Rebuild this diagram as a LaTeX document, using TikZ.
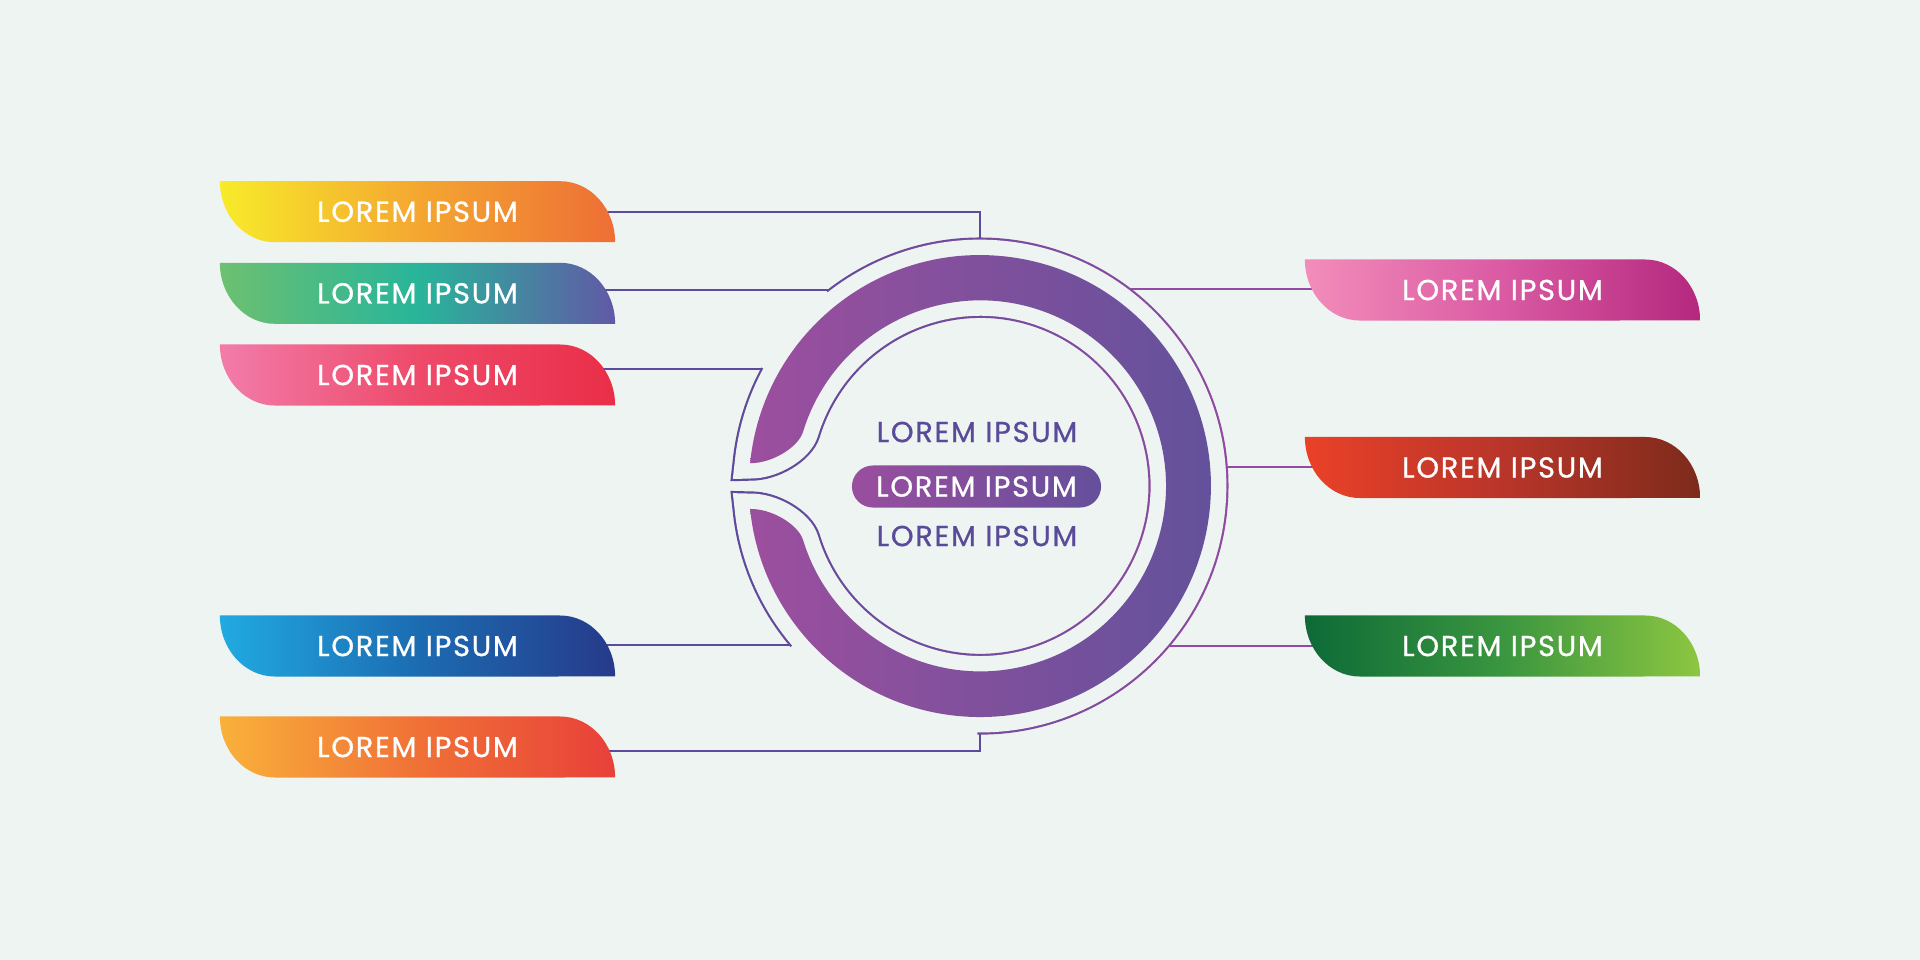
\documentclass[tikz,border=0pt]{standalone}
\usepackage{fontspec}
\setmainfont{Poppins}
\newfontfamily\tagfont[LetterSpace=6, FakeBold=0.8]{Poppins}
\usetikzlibrary{calc,fadings}
\definecolor{bgc}{HTML}{EEF4F1}
\definecolor{lineL}{HTML}{5C4A9C}
\definecolor{lineR}{HTML}{914BA0}
\definecolor{bandL}{HTML}{9C4F9E}
\definecolor{bandR}{HTML}{62519B}
\definecolor{ctxt}{HTML}{5A4B9A}
\definecolor{pillL}{HTML}{9A4E9E}
\definecolor{pillR}{HTML}{654F9C}
% label gradients
\definecolor{aL}{HTML}{F7EB2A}\definecolor{aM}{HTML}{F4A731}\definecolor{aR}{HTML}{EE6E36}
\definecolor{bL}{HTML}{6DC070}\definecolor{bM}{HTML}{28B59A}\definecolor{bR}{HTML}{6159A6}
\definecolor{cL}{HTML}{F27CAA}\definecolor{cM}{HTML}{EE4A6A}\definecolor{cR}{HTML}{EA2E48}
\definecolor{dL}{HTML}{21AAE1}\definecolor{dM}{HTML}{1C6CB2}\definecolor{dR}{HTML}{263A8A}
\definecolor{eL}{HTML}{F9B13B}\definecolor{eM}{HTML}{F07136}\definecolor{eR}{HTML}{E8403A}
\definecolor{fL}{HTML}{F28DBA}\definecolor{fM}{HTML}{DA5AA3}\definecolor{fR}{HTML}{B4287E}
\definecolor{gL}{HTML}{EA4128}\definecolor{gM}{HTML}{B9352A}\definecolor{gR}{HTML}{7D2B1B}
\definecolor{hL}{HTML}{0D6A37}\definecolor{hM}{HTML}{3A963F}\definecolor{hR}{HTML}{8DC641}
\pgfdeclarelayer{bglayer}\pgfdeclarelayer{ring}\pgfdeclarelayer{conn}
\pgfsetlayers{bglayer,ring,conn,main}
\def\bandpath{(750.1,463.1) arc[start angle=185.7, end angle=534.3, radius=231]
  .. controls (772,508.5) and (798.4,524.8) .. (803.1,540.1)
  arc[start angle=163, end angle=-163, radius=185.5]
  .. controls (798.4,447.2) and (772,463.5) .. cycle}
% fading = thin outline that runs round the band, with two gaps
\begin{tikzfadingfrompicture}[name=ringfade, x=0.01cm, y=-0.01cm]
  \fill[black] (-270,-270) rectangle (270,270);
  \begin{scope}[shift={(-980,-486)}]
    \draw[white, line width=10pt, line join=miter] \bandpath;
    \draw[black, line width=8.76pt, line join=miter] \bandpath;
    \draw[black, line width=2.4pt] (980,486) ++(208.5:248) arc[start angle=208.5, end angle=231.8, radius=248];
    \draw[black, line width=2.4pt] (980,486) ++(90.6:248) arc[start angle=90.6, end angle=139.6, radius=248];
  \end{scope}
\end{tikzfadingfrompicture}
\tikzset{
  tag/.style n args={3}{minimum width=3.95cm, minimum height=0.61cm, inner sep=0pt,
    text=white, font={\tagfont\fontsize{8.2}{10}\selectfont},
    path picture={\shade[left color=#1, right color=#3, middle color=#2]
      (path picture bounding box.north west)
      -- ($(path picture bounding box.north east)+(-55,0)$)
      arc[start angle=270, end angle=360, x radius=55, y radius=61]
      -- ($(path picture bounding box.south west)+(55,0)$)
      arc[start angle=90, end angle=180, x radius=55, y radius=61] -- cycle;}},
  ctext/.style={inner sep=0pt, text=ctxt, font={\tagfont\fontsize{8.2}{10}\selectfont}},
  pill/.style={minimum width=2.49cm, minimum height=0.42cm, inner sep=0pt,
    rounded corners=0.21cm, left color=pillL, right color=pillR, text=white,
    font={\tagfont\fontsize{8.2}{10}\selectfont}},
  connL/.style={draw=lineL, line width=0.63pt},
  connR/.style={draw=lineR, line width=0.63pt}
}
\begin{document}
\begin{tikzpicture}[x=0.01cm,y=-0.01cm]
\useasboundingbox (0,0) rectangle (1920,960);
\begin{pgfonlayer}{bglayer}
  \fill[bgc] (0,0) rectangle (1920,960);
\end{pgfonlayer}

% thin outline round the band (gradient, via fading)
\begin{pgfonlayer}{ring}
  \begin{scope}[transform canvas={shift={(980,486)}}]
    \shade[left color=lineL, right color=lineR, path fading=ringfade, fit fading=false]
      (-262,-262) rectangle (262,262);
  \end{scope}
\end{pgfonlayer}

% thick band
\shade[left color=bandL, right color=bandR] \bandpath;

% junction points on the outer thin circle
\coordinate (j1) at (980,238);
\coordinate (j2) at (828.1,290);
\coordinate (j3) at (761.3,369);
\coordinate (j4) at (789.7,645);
\coordinate (j5) at (980,734);
\coordinate (k1) at (1130.6,289);
\coordinate (k2) at (1227.3,467);
\coordinate (k3) at (1169.5,646);

% labels
\node[tag={aL}{aM}{aR}] (L1) at (417.5,211.7) {LOREM IPSUM};
\node[tag={bL}{bM}{bR}] (L2) at (417.5,293.3) {LOREM IPSUM};
\node[tag={cL}{cM}{cR}] (L3) at (417.5,375) {LOREM IPSUM};
\node[tag={dL}{dM}{dR}] (L4) at (417.5,646) {LOREM IPSUM};
\node[tag={eL}{eM}{eR}] (L5) at (417.5,747) {LOREM IPSUM};
\node[tag={fL}{fM}{fR}] (R1) at (1502.5,290) {LOREM IPSUM};
\node[tag={gL}{gM}{gR}] (R2) at (1502.5,467.5) {LOREM IPSUM};
\node[tag={hL}{hM}{hR}] (R3) at (1502.5,646) {LOREM IPSUM};

% centre texts
\node[ctext] (c1) at (977,432) {LOREM IPSUM};
\node[pill] (c2) at (976.5,486.5) {LOREM IPSUM};
\node[ctext] (c3) at (977,536) {LOREM IPSUM};

% connectors
\begin{pgfonlayer}{conn}
  \draw[connL] (L1.center) -| (j1);
  \draw[connL] (L2.center |- j2) -- (j2);
  \draw[connL] (L3.center |- j3) -- (j3);
  \draw[connL] (L4.center |- j4) -- (j4);
  \draw[connL] ($(L5.center)+(0,4)$) -| (j5);
  \draw[connR] (k1) -- (R1.center |- k1);
  \draw[connR] (k2) -- (R2.center |- k2);
  \draw[connR] (k3) -- (R3.center |- k3);
\end{pgfonlayer}
\end{tikzpicture}
\end{document}
